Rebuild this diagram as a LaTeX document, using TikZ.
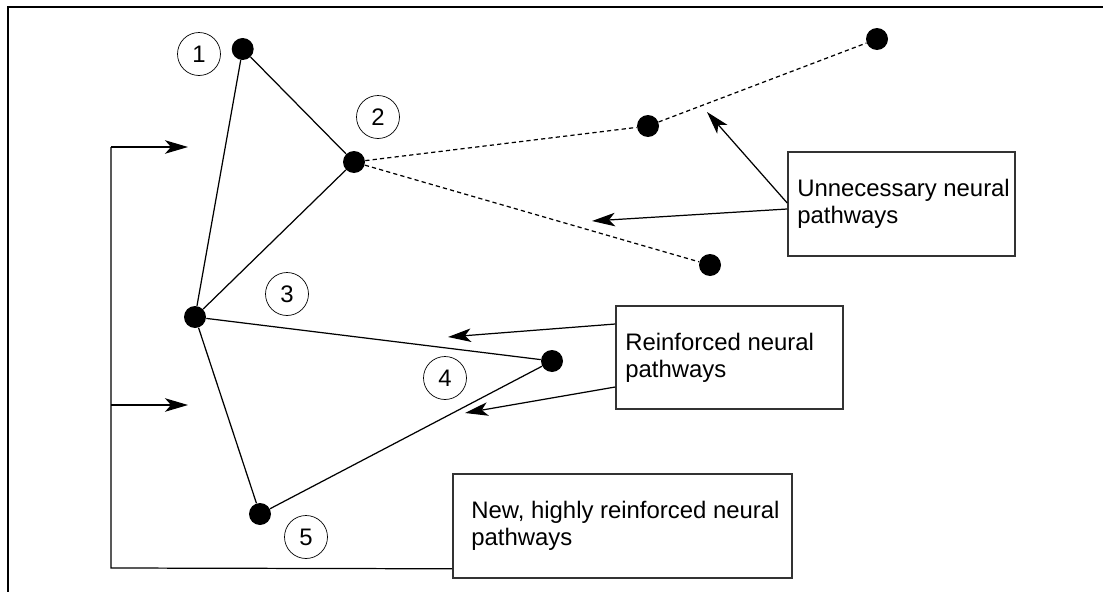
\documentclass[tikz,border=0pt]{standalone}
\usepackage{fontspec}
\setmainfont{Liberation Sans}
\usepackage{tikz}
\usetikzlibrary{positioning, arrows.meta, calc}
\tikzset{neuron/.style={circle, fill=black, draw=none, minimum size=0.44cm, inner sep=0pt}}
\tikzset{numcirc/.style={circle, draw, thin, minimum size=0.86cm, inner sep=0pt, font=\fontsize{13.6}{14.5}\selectfont}}
\tikzset{pbox/.style={draw=black!80, line width=0.9pt, inner sep=0pt}}
\tikzset{ptext/.style={anchor=west, align=left, inner sep=0pt, font=\fontsize{13.6}{15.3}\selectfont}}
\tikzset{path/.style={draw, line width=0.7pt}}
\tikzset{unused/.style={draw, line width=0.7pt, dash pattern=on 2.4pt off 1.8pt}}
\tikzset{arr/.style={draw, line width=0.7pt, -{Stealth[length=0.46cm, width=0.27cm, inset=0.12cm]}}}

\begin{document}
\begin{tikzpicture}[x=0.02cm, y=-0.02cm]
	\useasboundingbox (0,0) rectangle (1103,592);
	\draw[line width=1pt] (8,592) -- (8,7) -- (1103,7);

	% neurons
	\node[neuron] (n1) at (242.7, 49) {};
	\node[neuron] (n2) at (354, 162) {};
	\node[neuron] (n3) at (195, 317) {};
	\node[neuron] (n4) at (552, 361) {};
	\node[neuron] (n5) at (260, 514) {};
	\node[neuron] (n6) at (648, 126) {};
	\node[neuron] (n7) at (710, 265) {};
	\node[neuron] (n8) at (877, 39) {};

	\node[numcirc] (c1) at (199, 54) {1};
	\node[numcirc] (c2) at (378, 117) {2};
	\node[numcirc] (c3) at (287, 294) {3};
	\node[numcirc] (c4) at (445, 378) {4};
	\node[numcirc] (c5) at (306, 537) {5};

	\draw[path] (n1) -- (n2);
	\draw[path] (n1) -- (n3);
	\draw[path] (n2) -- (n3);
	\draw[path] (n3) -- (n4);
	\draw[path] (n3) -- (n5);
	\draw[path] (n5) -- (n4);
	\draw[unused] (n2) -- (n6) -- (n8);
	\draw[unused] (n2) -- (n7);

	% labels
	\node[pbox, minimum width=4.54cm, minimum height=2.08cm] (unn) at (901.5, 204) {};
	\node[ptext] (unntxt) at (797, 204) {Unnecessary neural\\pathways};
	\node[pbox, minimum width=4.54cm, minimum height=2.06cm] (rein) at (729.5, 357.5) {};
	\node[ptext] (reintxt) at (625, 357.5) {Reinforced neural\\pathways};
	\node[pbox, minimum width=6.78cm, minimum height=2.08cm] (new) at (622.5, 526) {};
	\node[ptext] (newtxt) at (471, 526) {New, highly reinforced neural\\pathways};

	\coordinate (tu1) at (707, 112);
	\coordinate (tu2) at (592, 221);
	\coordinate (tr1) at (448, 337);
	\coordinate (tr2) at (465, 413);
	\draw[arr] ([yshift=0.02cm]unn.west) -- (tu1);
	\draw[arr] ([yshift=-0.1cm]unn.west) -- (tu2);
	\draw[arr] ([yshift=0.67cm]rein.west) -- (tr1);
	\draw[arr] ([yshift=-0.59cm]rein.west) -- (tr2);

	% bracket
	\coordinate (bl) at (111, 568);
	\coordinate (tl) at (111, 147);
	\coordinate (ml) at (111, 405);
	\coordinate (ta) at (188, 147);
	\coordinate (ma) at (188, 405);
	\draw[path] ([yshift=0.2cm]new.south west) -- (bl) -- (tl);
	\draw[arr] (tl) -- (ta);
	\draw[arr] (ml) -- (ma);
\end{tikzpicture}
\end{document}
